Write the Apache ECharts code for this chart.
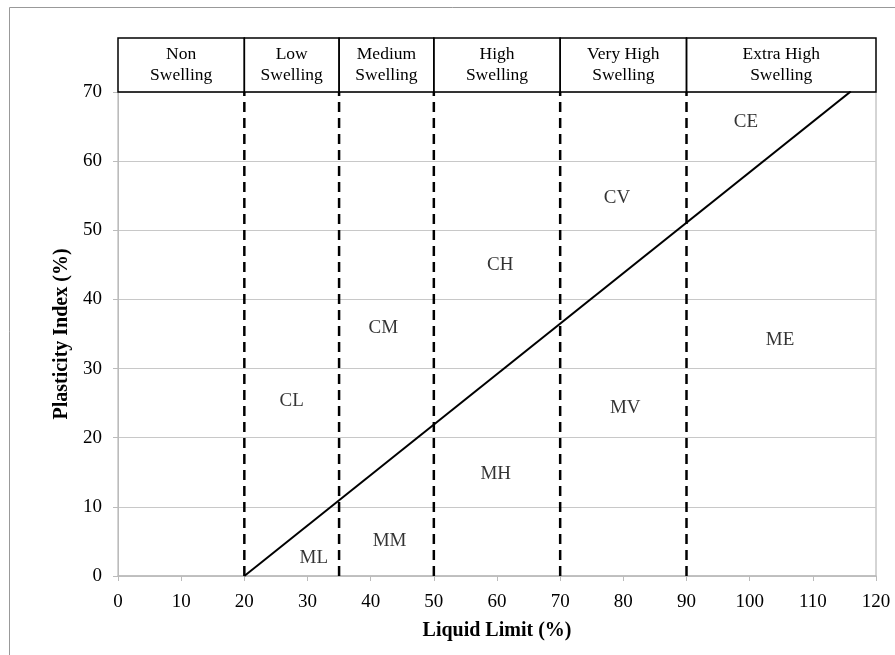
<!DOCTYPE html>
<html><head><meta charset="utf-8">
<script src="https://cdn.jsdelivr.net/npm/echarts@6/dist/echarts.min.js"></script>
<style>html,body{margin:0;padding:0;background:#fff}#c{width:895px;height:655px}</style>
</head><body><div id="c"></div>
<script>
// Swelling classes (header boxes): [start LL, end LL, label]
const classStarts = [0, 20, 35, 50, 70, 90];
const classEnds = [20, 35, 50, 70, 90, 120];
const classNames = ['Non\nSwelling', 'Low\nSwelling', 'Medium\nSwelling', 'High\nSwelling', 'Very High\nSwelling', 'Extra High\nSwelling'];
// Dashed boundary lines (Liquid Limit)
const boundaries = [20, 35, 50, 70, 90];
// A-line endpoints
const aLineLL = [20, 116];
const aLinePI = [0, 70.08];
// Zone labels
const zoneNames = ['CL', 'ML', 'MM', 'CM', 'CH', 'MH', 'CV', 'MV', 'CE', 'ME'];
const zoneLL = [27.5, 31, 43, 42, 60.5, 59.8, 79, 80.3, 99.4, 104.8];
const zonePI = [25.3, 2.6, 5.1, 35.9, 45, 14.7, 54.7, 24.3, 65.7, 34.1];
// Axis ticks
const xMin = 0, xMax = 120, xStep = 10;
const yMin = 0, yMax = 70, yStep = 10;

const FONT = 'Liberation Serif';
const chart = echarts.init(document.getElementById('c'));

const series = [];
boundaries.forEach(b => {
  series.push({
    type: 'line', xAxisIndex: 0, yAxisIndex: 0,
    data: [[b, yMin], [b, yMax]], symbol: 'none', silent: true,
    lineStyle: { color: '#000', width: 2.5, type: [10, 6] }, z: 3
  });
});
series.push({
  type: 'line', xAxisIndex: 0, yAxisIndex: 0, symbol: 'none', silent: true,
  data: aLineLL.map((v, i) => [v, aLinePI[i]]),
  lineStyle: { color: '#000', width: 2 }, z: 4
});
series.push({
  type: 'scatter', xAxisIndex: 0, yAxisIndex: 0, symbolSize: 0, silent: true,
  data: zoneNames.map((n, i) => ({ name: n, value: [zoneLL[i], zonePI[i]] })),
  label: { show: true, position: 'inside', formatter: p => p.name, fontFamily: FONT, fontSize: 19, color: '#000' }
});
// Header boxes on second grid
series.push({
  type: 'line', xAxisIndex: 1, yAxisIndex: 1, data: [], silent: true,
  markArea: {
    silent: true,
    itemStyle: { color: 'rgba(0,0,0,0)', borderColor: '#000', borderWidth: 1.5 },
    label: { show: true, position: 'inside', fontFamily: FONT, fontSize: 17.5, lineHeight: 21, color: '#000' },
    data: classStarts.map((s, i) => [{ name: classNames[i], xAxis: s, yAxis: 0 }, { xAxis: classEnds[i], yAxis: 1 }])
  }
});

chart.setOption({
  animation: false,
  backgroundColor: '#fff',
  graphic: [{ type: 'rect', shape: { x: 9.5, y: 7.5, width: 900, height: 700 }, style: { fill: 'none', stroke: '#999', lineWidth: 1 }, silent: true }],
  grid: [
    { left: 118, right: 19, top: 92, bottom: 79, show: true, borderColor: '#aaa', borderWidth: 1, backgroundColor: 'transparent' },
    { left: 118, right: 19, top: 38, height: 54 }
  ],
  xAxis: [
    {
      gridIndex: 0, type: 'value', min: xMin, max: xMax, interval: xStep,
      name: 'Liquid Limit (%)', nameLocation: 'middle', nameGap: 45,
      nameTextStyle: { fontFamily: FONT, fontSize: 20, fontWeight: 'bold', color: '#000' },
      axisLine: { show: true, lineStyle: { color: '#bbb', width: 1.5 } },
      axisTick: { show: true, inside: false, length: 5, lineStyle: { color: '#bbb' } },
      axisLabel: { fontFamily: FONT, fontSize: 19, color: '#000', margin: 17 },
      splitLine: { show: false }
    },
    { gridIndex: 1, type: 'value', min: xMin, max: xMax, show: false }
  ],
  yAxis: [
    {
      gridIndex: 0, type: 'value', min: yMin, max: yMax, interval: yStep,
      name: 'Plasticity Index (%)', nameLocation: 'middle', nameGap: 39,
      nameTextStyle: { fontFamily: FONT, fontSize: 20, fontWeight: 'bold', color: '#000' },
      axisLine: { show: true, lineStyle: { color: '#bbb', width: 1 } },
      axisTick: { show: true, inside: false, length: 5, lineStyle: { color: '#bbb' } },
      axisLabel: { fontFamily: FONT, fontSize: 19, color: '#000', margin: 16 },
      splitLine: { show: true, lineStyle: { color: '#c8c8c8', width: 1 } }
    },
    { gridIndex: 1, type: 'value', min: 0, max: 1, show: false }
  ],
  series: series
});
</script>
</body></html>
